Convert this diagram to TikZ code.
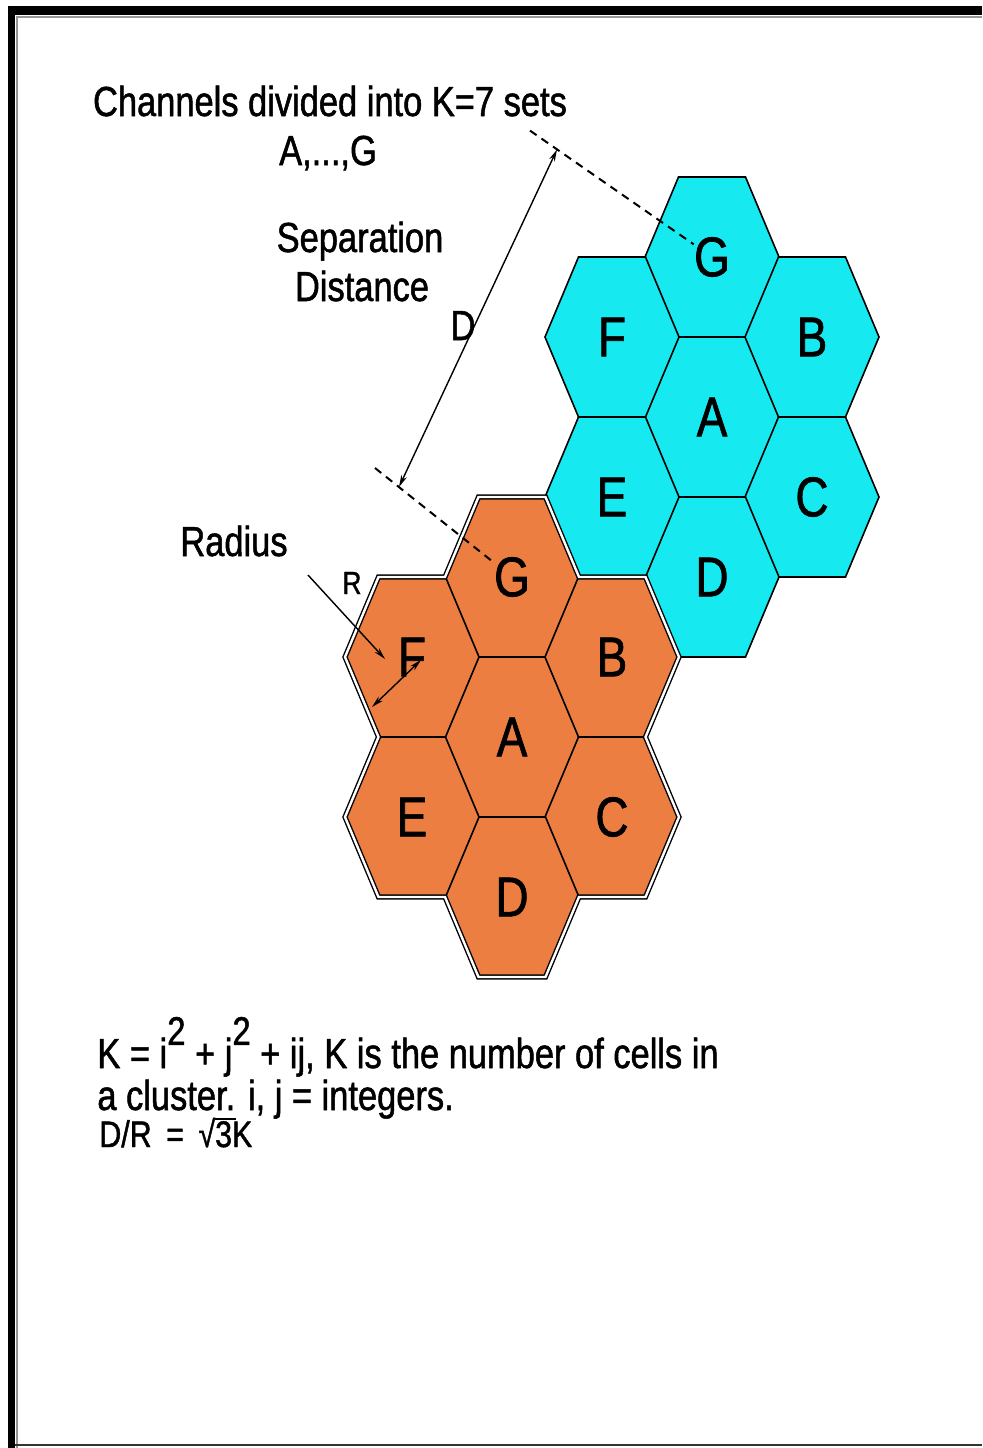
\documentclass[tikz,border=0pt]{standalone}
\usepackage{fontspec}
\setmainfont{Liberation Sans}[FakeStretch=0.82,FakeBold=1.2]
\usetikzlibrary{arrows.meta}
\definecolor{cellcyan}{RGB}{22,234,240}
\definecolor{cellorange}{RGB}{236,126,66}
\definecolor{framegray}{RGB}{150,150,150}
\newcommand{\hexcell}[5]{%
  \begin{scope}[shift={(#2,#3)}]
    \filldraw[cellline,fill=#4] (-67,0) -- (-33.5,-80) -- (33.5,-80) -- (67,0) -- (33.5,80) -- (-33.5,80) -- cycle;
  \end{scope}
  \node[lett] (#1) at (#2,#3) {#5};}
\tikzset{
  cellline/.style={draw=black,line width=0.8pt,line join=miter},
  lett/.style={inner sep=0pt,font=\fontsize{28}{30}\selectfont},
  lbl/.style={inner sep=0pt,anchor=base,font=\fontsize{21}{25}\selectfont},
  lblw/.style={inner sep=0pt,anchor=base west,font=\fontsize{21}{25}\selectfont},
  dashline/.style={draw=black,line width=1pt,dash pattern=on 4pt off 3pt},
  dimarrow/.style={draw=black,line width=0.7pt,{Stealth[length=6pt,width=3pt]}-{Stealth[length=6pt,width=3pt]}},
  ptrarrow/.style={draw=black,line width=0.7pt,-{Stealth[length=6pt,width=3pt]}},
  outline/.style={draw=black,line width=0.7pt,double=white,double distance=1.2pt,line join=miter}
}
\begin{document}
\begin{tikzpicture}[x=0.5pt,y=-0.5pt]
\useasboundingbox (0,0) rectangle (982,1448);
\fill[white] (0,0) rectangle (982,1448);
% frame
\fill[black] (8,6) rectangle (982,15);
\fill[black] (8,6) rectangle (15,1448);
\draw[framegray,line width=0.6pt] (17,1448) -- (17,17) -- (982,17);
\draw[black!80,line width=1pt] (15,1445) -- (982,1445);

% cyan cluster, A at (712,417)
\hexcell{cA}{712}{417}{cellcyan}{A}
\hexcell{cG}{712}{257}{cellcyan}{G}
\hexcell{cB}{812}{337}{cellcyan}{B}
\hexcell{cC}{812}{497}{cellcyan}{C}
\hexcell{cD}{712}{577}{cellcyan}{D}
\hexcell{cE}{612}{497}{cellcyan}{E}
\hexcell{cF}{612}{337}{cellcyan}{F}

% orange cluster, A at (512,737)
\hexcell{oA}{512}{737}{cellorange}{A}
\hexcell{oG}{512}{577}{cellorange}{G}
\hexcell{oB}{612}{657}{cellorange}{B}
\hexcell{oC}{612}{817}{cellorange}{C}
\hexcell{oD}{512}{897}{cellorange}{D}
\hexcell{oE}{412}{817}{cellorange}{E}
\hexcell{oF}{412}{657}{cellorange}{F}

% double outline of orange cluster
\begin{scope}[shift={(512,737)}]
\draw[outline] (-33.5,-240) -- (33.5,-240) -- (67,-160) -- (133.5,-160) -- (167,-80) -- (133.5,0)
  -- (167,80) -- (133.5,160) -- (67,160) -- (33.5,240) -- (-33.5,240) -- (-67,160)
  -- (-133.5,160) -- (-167,80) -- (-133.5,0) -- (-167,-80) -- (-133.5,-160) -- (-67,-160) -- cycle;
\end{scope}

% labels
\node[lbl] (title) at (330,116) {Channels divided into K=7 sets};
\node[lbl] (sets) at (328,165) {A,...,G};
\node[lbl] (sep) at (360,252) {Separation};
\node[lbl] (dist) at (362,301) {Distance};
\node[lbl] (dlab) at (463,340) {D};
\node[lbl] (rad) at (234,556) {Radius};
\node[inner sep=0pt,anchor=base,font=\fontsize{16}{18}\selectfont] (rlab) at (352,594) {R};

% separation distance
\coordinate (dashA) at (530,130.6);
\coordinate (dashB) at (375,468);
\draw[dashline] (dashA) -- (cG);
\draw[dashline] (dashB) -- (oG);
\coordinate (dtop) at (557,149.5);
\coordinate (dbot) at (399,487);
\draw[dimarrow] (dbot) -- (dtop);

% radius
\coordinate (radS) at (308,575);
\coordinate (radE) at (385,659);
\draw[ptrarrow] (radS) -- (radE);
\coordinate (rA) at (372,707);
\coordinate (rB) at (421,660);
\draw[dimarrow] (rA) -- (rB);

% formula text
\node[lblw] (f1) at (97,1068) {K = i\raisebox{0.55em}{\fontsize{20}{20}\selectfont 2} + j\raisebox{0.55em}{\fontsize{20}{20}\selectfont 2} + ij, K is the number of cells in};
\node[lblw] (f2) at (97,1110) {a cluster. i, j = integers.};
\node[inner sep=0pt,anchor=base west,font=\fontsize{18.5}{20}\selectfont] (f3) at (99,1147) {D/R\,\ =\ \,√\makebox[0pt][l]{\rule[0.74em]{0.55em}{0.05em}}3K};
\end{tikzpicture}
\end{document}
